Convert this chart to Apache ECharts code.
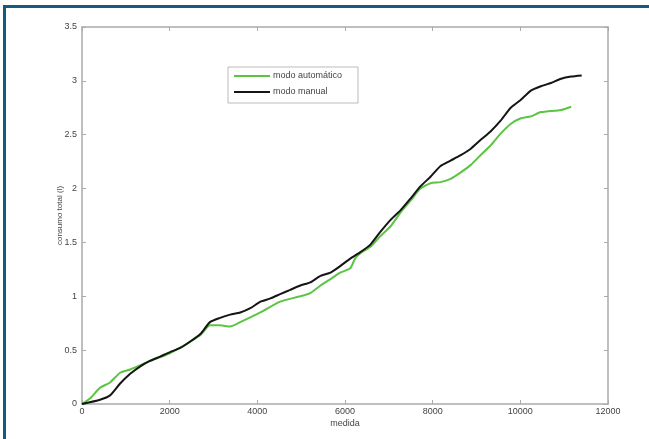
<!DOCTYPE html>
<html><head><meta charset="utf-8">
<script src="https://cdn.jsdelivr.net/npm/echarts@6/dist/echarts.min.js"></script>
<style>html,body{margin:0;padding:0;background:#fff}#c{width:649px;height:439px}</style>
</head><body><div id="c"></div>
<script>
var xTicks = [0, 2000, 4000, 6000, 8000, 10000, 12000];
var yTicks = [0, 0.5, 1, 1.5, 2, 2.5, 3, 3.5];
var seriesNames = ['modo automático', 'modo manual'];

var autoX = [0, 180, 410, 640, 870, 1100, 1330, 1550, 2000, 2700, 2920, 3150, 3380, 3610, 4070, 4520, 4980, 5210, 5440, 5670, 5890, 6120, 6230, 6350, 6580, 6810, 7040, 7270, 7500, 7720, 7950, 8180, 8410, 8640, 8870, 9090, 9320, 9550, 9780, 10000, 10240, 10470, 10930, 11160];
var autoY = [0, 0.05, 0.15, 0.2, 0.29, 0.32, 0.36, 0.4, 0.47, 0.64, 0.73, 0.73, 0.72, 0.76, 0.85, 0.95, 1.0, 1.03, 1.1, 1.16, 1.22, 1.26, 1.35, 1.4, 1.46, 1.56, 1.65, 1.78, 1.89, 2.0, 2.05, 2.06, 2.09, 2.15, 2.22, 2.31, 2.4, 2.51, 2.6, 2.65, 2.67, 2.71, 2.73, 2.76];

var manX = [0, 411, 640, 870, 1100, 1330, 1550, 1780, 2000, 2240, 2470, 2700, 2920, 3150, 3380, 3610, 3840, 4070, 4300, 4520, 4750, 4980, 5210, 5440, 5670, 5890, 6120, 6350, 6580, 6810, 7040, 7270, 7500, 7720, 7950, 8180, 8410, 8640, 8870, 9090, 9320, 9550, 9780, 10000, 10240, 10470, 10700, 10930, 11160, 11400];
var manY = [0, 0.04, 0.08, 0.19, 0.28, 0.35, 0.4, 0.44, 0.48, 0.52, 0.58, 0.65, 0.76, 0.8, 0.83, 0.85, 0.89, 0.95, 0.98, 1.02, 1.06, 1.1, 1.13, 1.19, 1.22, 1.28, 1.35, 1.41, 1.48, 1.6, 1.71, 1.8, 1.91, 2.02, 2.11, 2.21, 2.26, 2.31, 2.37, 2.45, 2.53, 2.63, 2.75, 2.82, 2.91, 2.95, 2.98, 3.02, 3.04, 3.05];

function pairs(xs, ys){ return xs.map(function(x,i){ return [x, ys[i]]; }); }

var chart = echarts.init(document.getElementById('c'), null, {renderer:'canvas'});
var FONT = 'Liberation Sans, Arial, sans-serif';
var labelStyle = {color:'#444', fontSize:9, fontFamily:FONT, formatter:function(v){ return String(v); }};
var axLine = {show:true, onZero:false, lineStyle:{color:'#aaa', width:1.5}};
var tick = {show:true, inside:true, length:4, lineStyle:{color:'#aaa'}};
chart.setOption({
  animation:false,
  backgroundColor:'#fff',
  grid:{left:82, right:41, top:27, bottom:35, show:false},
  legend:{show:false},
  xAxis:[{
    type:'value', min:xTicks[0], max:xTicks[xTicks.length-1], interval:2000,
    axisLine:axLine, axisTick:tick, splitLine:{show:false},
    axisLabel:Object.assign({margin:3}, labelStyle),
    name:'medida', nameLocation:'middle', nameGap:15, nameMoveOverlap:false,
    nameTextStyle:{color:'#444', fontSize:9, fontFamily:FONT}
  },{
    type:'value', position:'top', min:xTicks[0], max:xTicks[xTicks.length-1], interval:2000,
    axisLine:axLine, axisTick:tick, axisLabel:{show:false}, splitLine:{show:false}
  }],
  yAxis:[{
    type:'value', min:yTicks[0], max:yTicks[yTicks.length-1], interval:0.5,
    axisLine:axLine, axisTick:tick, splitLine:{show:false},
    axisLabel:Object.assign({margin:5}, labelStyle),
    name:'consumo total (l)', nameLocation:'middle', nameGap:18, nameRotate:90, nameMoveOverlap:false,
    nameTextStyle:{color:'#444', fontSize:8, fontFamily:FONT}
  },{
    type:'value', position:'right', min:yTicks[0], max:yTicks[yTicks.length-1], interval:0.5,
    axisLine:axLine, axisTick:tick, axisLabel:{show:false}, splitLine:{show:false}
  }],
  series:[
    {name:seriesNames[0], type:'line', data:pairs(autoX, autoY), showSymbol:false, smooth:0.2,
     lineStyle:{color:'#5cc443', width:2}},
    {name:seriesNames[1], type:'line', data:pairs(manX, manY), showSymbol:false, smooth:0.2,
     lineStyle:{color:'#151515', width:2}}
  ],
  graphic:[
    {type:'rect', shape:{x:228, y:67, width:130, height:36}, style:{fill:'#fff', stroke:'#bbb', lineWidth:1}, z:100},
    {type:'line', shape:{x1:234, y1:76, x2:270, y2:76}, style:{stroke:'#5cc443', lineWidth:2}, z:101},
    {type:'line', shape:{x1:234, y1:92, x2:270, y2:92}, style:{stroke:'#151515', lineWidth:2}, z:101},
    {type:'text', x:273, y:76, style:{text:seriesNames[0], fill:'#444', font:'9px Liberation Sans, Arial, sans-serif', textVerticalAlign:'middle'}, z:101},
    {type:'text', x:273, y:92, style:{text:seriesNames[1], fill:'#444', font:'9px Liberation Sans, Arial, sans-serif', textVerticalAlign:'middle'}, z:101},
    {type:'rect', shape:{x:3, y:5, width:646, height:3}, style:{fill:'#175a7c'}, z:200},
    {type:'rect', shape:{x:3, y:5, width:3, height:434}, style:{fill:'#175a7c'}, z:200}
  ]
});
</script></body></html>
